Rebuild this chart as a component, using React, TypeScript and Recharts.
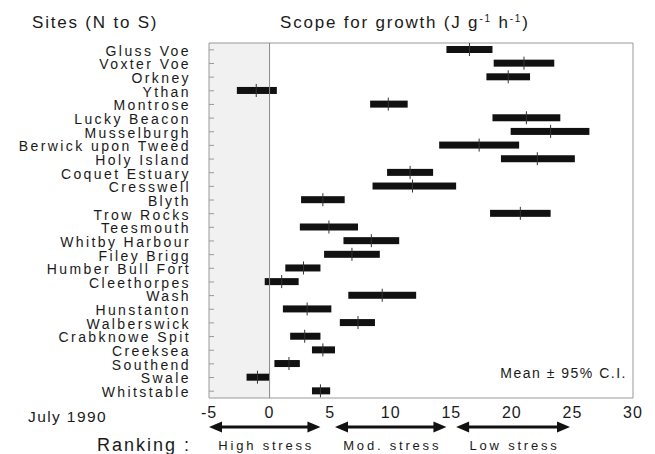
import React from 'react';
import { ComposedChart, Bar, XAxis, YAxis, ReferenceArea, ReferenceLine } from 'recharts';

// sites, north to south
const sites = [
  'Gluss Voe', 'Voxter Voe', 'Orkney', 'Ythan', 'Montrose', 'Lucky Beacon', 'Musselburgh',
  'Berwick upon Tweed', 'Holy Island', 'Coquet Estuary', 'Cresswell', 'Blyth', 'Trow Rocks',
  'Teesmouth', 'Whitby Harbour', 'Filey Brigg', 'Humber Bull Fort', 'Cleethorpes', 'Wash',
  'Hunstanton', 'Walberswick', 'Crabknowe Spit', 'Creeksea', 'Southend', 'Swale', 'Whitstable',
];

// lower / upper 95% C.I. and mean (J g-1 h-1)
const lows = [14.6, 18.5, 17.9, -2.7, 8.3, 18.4, 19.9, 14.0, 19.1, 9.7, 8.5, 2.6, 18.2, 2.5, 6.1, 4.5, 1.3, -0.4, 6.5, 1.1, 5.8, 1.7, 3.5, 0.4, -1.9, 3.5];
const highs = [18.4, 23.5, 21.5, 0.6, 11.4, 24.0, 26.4, 20.6, 25.2, 13.5, 15.4, 6.2, 23.2, 7.3, 10.7, 9.1, 4.2, 2.4, 12.1, 5.1, 8.7, 4.2, 5.4, 2.5, 0.0, 5.0];
const means = [16.5, 21.0, 19.7, -1.1, 9.8, 21.2, 23.2, 17.3, 22.1, 11.6, 11.8, 4.4, 20.7, 4.9, 8.4, 6.8, 2.8, 1.0, 9.3, 3.1, 7.3, 2.9, 4.4, 1.6, -1.0, 4.2];

const xTicks = [-5, 0, 5, 10, 15, 20, 25, 30];

const rankLabels = ['High stress', 'Mod. stress', 'Low stress'];
const rankFrom = [-5, 5.4, 15.4];
const rankTo = [4.2, 14.6, 24.8];

const W = 655;
const H = 454;
const plotLeft = 209;
const plotRight = 633;
const plotTop = 43;
const plotBottom = 398;
const xMin = -5;
const xMax = 30;
const font = '"Liberation Sans", Arial, sans-serif';

const xPx = (v: number) => plotLeft + ((v - xMin) / (xMax - xMin)) * (plotRight - plotLeft);

const data = sites.map((site, i) => ({
  site,
  range: [lows[i], highs[i]],
  lo: lows[i],
  hi: highs[i],
  mean: means[i],
}));

function CIBar(props: any) {
  const { x, y, width, height, payload } = props;
  const mx = x + (width * (payload.mean - payload.lo)) / (payload.hi - payload.lo);
  return (
    <g>
      <rect x={x} y={y} width={width} height={height} fill="#111" />
      <line x1={mx} x2={mx} y1={y - 3} y2={y + height + 3} stroke="#333" strokeWidth={1} />
    </g>
  );
}

function SiteTick(props: any) {
  const { x, y, payload } = props;
  return (
    <g>
      <line x1={x} x2={x + 5} y1={y} y2={y} stroke="#999" />
      <text x={x - 18} y={y} dy="0.42em" textAnchor="end" fontSize={14} letterSpacing={2.4}
        fill="#1a1a1a" fontFamily={font}>
        {payload.value}
      </text>
    </g>
  );
}

function Arrow({ from, to, y }: { from: number; to: number; y: number }) {
  const a = xPx(from);
  const b = xPx(to);
  return (
    <g>
      <line x1={a + 8} x2={b - 8} y1={y} y2={y} stroke="#111" strokeWidth={3} />
      <polygon points={`${a},${y} ${a + 13},${y - 5.5} ${a + 13},${y + 5.5}`} fill="#111" />
      <polygon points={`${b},${y} ${b - 13},${y - 5.5} ${b - 13},${y + 5.5}`} fill="#111" />
    </g>
  );
}

export default function App() {
  return (
    <div style={{ position: 'fixed', left: 0, top: 0, width: W, height: H, background: '#fff' }}>
      <ComposedChart
        width={W}
        height={H}
        data={data}
        layout="vertical"
        margin={{ top: plotTop, right: W - plotRight, bottom: 0, left: 0 }}
        barCategoryGap={0}
      >
        <ReferenceArea x1={-5} x2={0} fill="#f1f1f1" fillOpacity={1} stroke="none" />
        <ReferenceArea x1={-5} x2={30} fill="none" stroke="#999" strokeWidth={1} />
        <ReferenceLine x={0} stroke="#888" strokeWidth={1} />
        <XAxis
          type="number"
          domain={[xMin, xMax]}
          ticks={xTicks}
          height={H - plotBottom}
          axisLine={false}
          tickLine={false}
          tickSize={0}
          tickMargin={9}
          interval={0}
          tick={{ fontSize: 16, fill: '#1a1a1a', fontFamily: font, letterSpacing: 1 }}
        />
        <YAxis
          type="category"
          dataKey="site"
          width={plotLeft}
          axisLine={false}
          tickLine={false}
          tickSize={0}
          tickMargin={0}
          interval={0}
          tick={<SiteTick />}
        />
        <Bar dataKey="range" barSize={7} shape={<CIBar />} isAnimationActive={false} />
      </ComposedChart>
      <svg width={W} height={H} style={{ position: 'absolute', left: 0, top: 0, pointerEvents: 'none' }}
        fontFamily={font} fill="#1a1a1a">
        <text x={32} y={28} fontSize={17} letterSpacing={1.8}>Sites (N to S)</text>
        <text x={280} y={28} fontSize={17} letterSpacing={1.8}>
          Scope for growth (J g
          <tspan fontSize={10} dy={-6}>-1</tspan>
          <tspan dy={6}> h</tspan>
          <tspan fontSize={10} dy={-6}>-1</tspan>
          <tspan dy={6}>)</tspan>
        </text>
        <text x={627} y={378} fontSize={14} letterSpacing={1.5} textAnchor="end">Mean ± 95% C.I.</text>
        <text x={28} y={422} fontSize={15.5} letterSpacing={1.4}>July 1990</text>
        <text x={97} y={451} fontSize={18} letterSpacing={2}>Ranking :</text>
        {rankLabels.map((label, i) => (
          <g key={label}>
            <Arrow from={rankFrom[i]} to={rankTo[i]} y={427} />
            <text x={(xPx(rankFrom[i]) + xPx(rankTo[i])) / 2 + 1.5} y={450} fontSize={13}
              letterSpacing={2.8} textAnchor="middle">
              {label}
            </text>
          </g>
        ))}
      </svg>
    </div>
  );
}
